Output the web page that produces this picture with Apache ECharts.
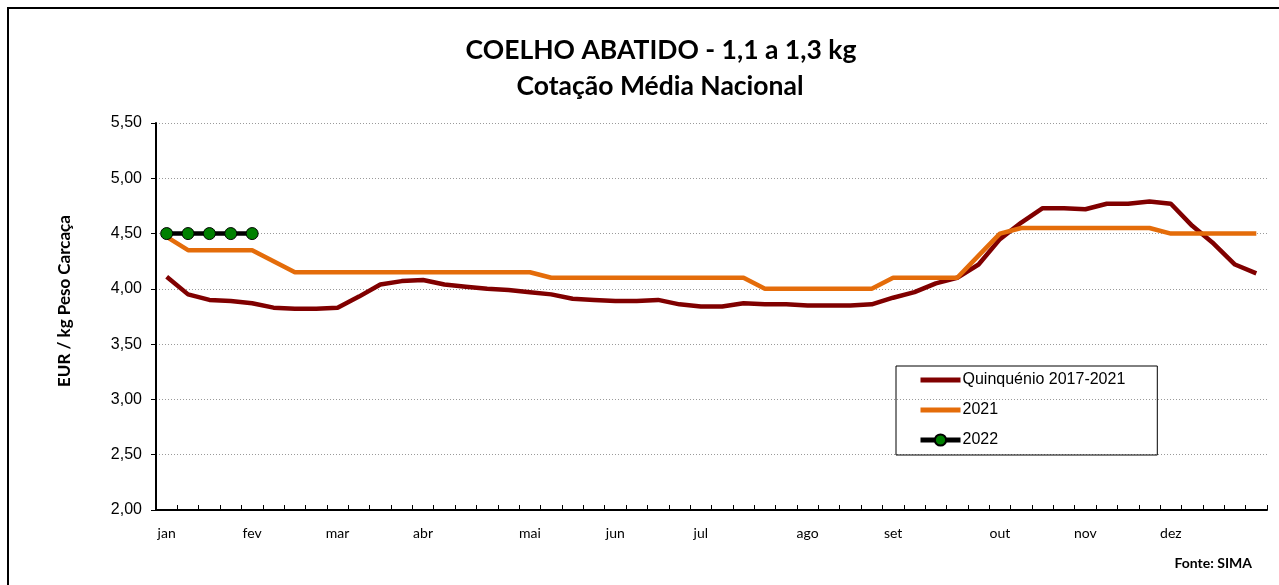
<!DOCTYPE html>
<html>
<head>
<meta charset="utf-8">
<script src="https://cdn.jsdelivr.net/npm/echarts@6/dist/echarts.min.js"></script>
<style>
html,body{margin:0;padding:0;background:#fff;}
#chart{width:1279px;height:585px;}
</style>
</head>
<body>
<div id="chart"></div>
<script>
// Weekly categories (52 weeks)
const weeks = Array.from({length: 52}, (_, i) => 'S' + (i + 1));
// Month tick labels and the week index where each is placed
const monthNames = ['jan','fev','mar','abr','mai','jun','jul','ago','set','out','nov','dez'];
const monthWeek  = [0, 4, 8, 12, 17, 21, 25, 30, 34, 39, 43, 47];
// Y tick labels
const yTicks = [2.0, 2.5, 3.0, 3.5, 4.0, 4.5, 5.0, 5.5];

const quinquenio = [4.11,3.95,3.90,3.89,3.87,3.83,3.82,3.82,3.83,3.93,
                    4.04,4.07,4.08,4.04,4.02,4.00,3.99,3.97,3.95,3.91,
                    3.90,3.89,3.89,3.90,3.86,3.84,3.84,3.87,3.86,3.86,
                    3.85,3.85,3.85,3.86,3.92,3.97,4.05,4.10,4.22,4.45,
                    4.60,4.73,4.73,4.72,4.77,4.77,4.79,4.77,4.57,4.41,
                    4.22,4.14];
const y2021 = [4.47,4.35,4.35,4.35,4.35,4.25,4.15,4.15,4.15,4.15,
               4.15,4.15,4.15,4.15,4.15,4.15,4.15,4.15,4.10,4.10,
               4.10,4.10,4.10,4.10,4.10,4.10,4.10,4.10,4.00,4.00,
               4.00,4.00,4.00,4.00,4.10,4.10,4.10,4.10,4.30,4.50,
               4.55,4.55,4.55,4.55,4.55,4.55,4.55,4.50,4.50,4.50,
               4.50,4.50];
const y2022 = [4.50,4.50,4.50,4.50,4.50];

const chart = echarts.init(document.getElementById('chart'));
const fmt = v => v.toFixed(2).replace('.', ',');

chart.setOption({
  animation: false,
  backgroundColor: '#ffffff',
  grid: {left: 156, right: 12, top: 123, bottom: 75},
  graphic: [
    {type: 'rect', shape: {x: 8, y: 8, width: 1320, height: 640},
     style: {fill: 'none', stroke: '#000', lineWidth: 2}, silent: true},
    {type: 'text', style: {x: 661, y: 50, text: 'COELHO ABATIDO - 1,1 a 1,3 kg',
      font: 'bold 26.5px Lato', fill: '#000', textAlign: 'center', textVerticalAlign: 'middle'}},
    {type: 'text', style: {x: 660, y: 86, text: 'Cotação Média Nacional',
      font: 'bold 26.5px Lato', fill: '#000', textAlign: 'center', textVerticalAlign: 'middle'}},
    {type: 'text', x: 65, y: 301, rotation: Math.PI / 2,
      style: {x: 0, y: 0, text: 'EUR / kg Peso Carcaça', font: 'bold 17px Lato', fill: '#000',
        textAlign: 'center', textVerticalAlign: 'middle'}},
    {type: 'text', style: {x: 1252, y: 563, text: 'Fonte: SIMA', font: 'bold 14px Lato', fill: '#000',
      textAlign: 'right', textVerticalAlign: 'middle'}}
  ],
  legend: {
    orient: 'vertical',
    left: 896, top: 366,
    padding: [6, 32, 7, 22],
    itemWidth: 40, itemHeight: 14, itemGap: 14,
    borderColor: '#000', borderWidth: 1,
    textStyle: {fontFamily: 'Arial, Liberation Sans', fontSize: 16, color: '#000', padding: [0,0,0,-3]},
    data: [
      {name: 'Quinquénio 2017-2021', itemStyle: {opacity: 0}, lineStyle: {width: 5}},
      {name: '2021', itemStyle: {opacity: 0}, lineStyle: {width: 5}},
      {name: '2022', lineStyle: {width: 5}}
    ]
  },
  xAxis: {
    type: 'category',
    data: weeks,
    boundaryGap: true,
    axisLine: {lineStyle: {color: '#000', width: 2}},
    axisTick: {show: true, interval: 0, inside: true, length: 5, lineStyle: {color: '#000', width: 1}},
    axisLabel: {
      interval: 0, margin: 16,
      fontFamily: 'Lato', fontSize: 14, color: '#000',
      formatter: (v, i) => { const k = monthWeek.indexOf(i); return k >= 0 ? monthNames[k] : ''; }
    },
    splitLine: {show: false}
  },
  yAxis: {
    type: 'value',
    min: yTicks[0], max: yTicks[yTicks.length - 1], interval: 0.5,
    axisLine: {show: true, lineStyle: {color: '#000', width: 2}},
    axisTick: {show: true, length: 5, lineStyle: {color: '#000'}},
    axisLabel: {formatter: fmt, fontFamily: 'Arial, Liberation Sans', fontSize: 16, color: '#000', margin: 14},
    splitLine: {show: true, lineStyle: {color: '#9a9a9a', type: [1, 2], width: 1}}
  },
  series: [
    {name: 'Quinquénio 2017-2021', type: 'line', data: quinquenio, symbol: 'none',
     lineStyle: {color: '#800000', width: 4.5}, itemStyle: {color: '#800000'}},
    {name: '2021', type: 'line', data: y2021, symbol: 'none',
     lineStyle: {color: '#E46C0A', width: 4.5}, itemStyle: {color: '#E46C0A'}},
    {name: '2022', type: 'line', data: y2022, symbol: 'circle', symbolSize: 12, showSymbol: true,
     lineStyle: {color: '#000', width: 4.5},
     itemStyle: {color: '#008000', borderColor: '#000', borderWidth: 1}}
  ]
});
</script>
</body>
</html>
